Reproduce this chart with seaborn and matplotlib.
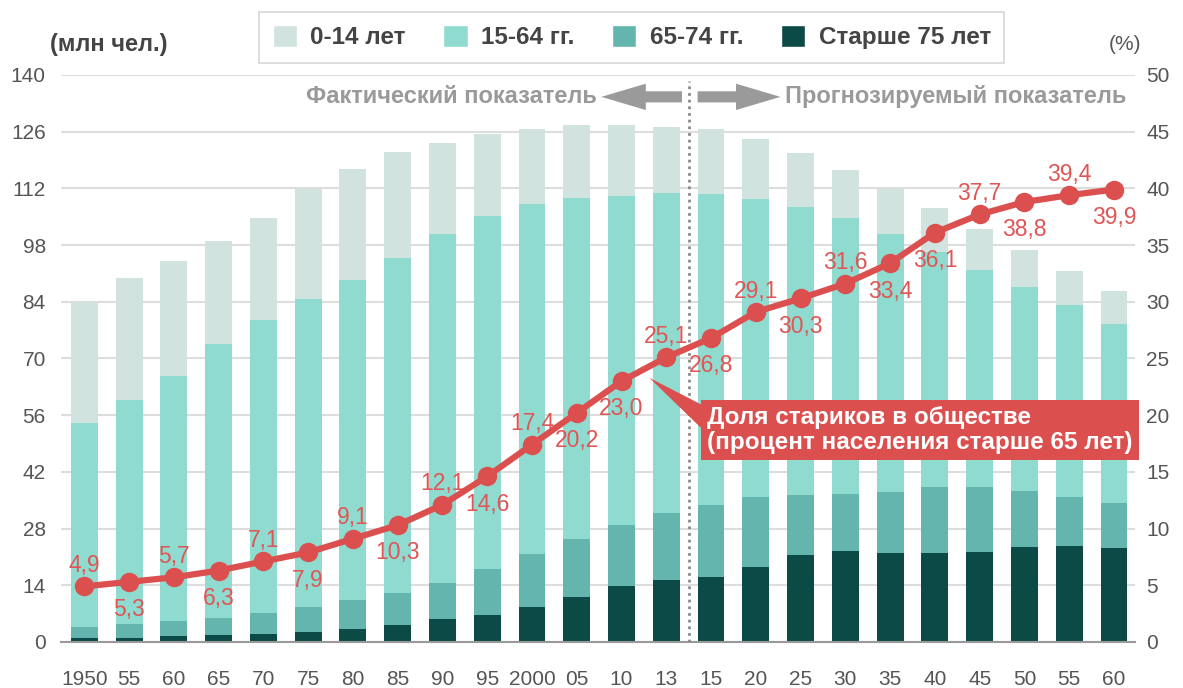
import numpy as np
import pandas as pd
import matplotlib
matplotlib.use('Agg')
import matplotlib.pyplot as plt
import seaborn as sns
from matplotlib.patches import Patch, Polygon

# Население Японии по возрастным группам (млн чел.) и доля пожилых (%)

years = [1950, 1955, 1960, 1965, 1970, 1975, 1980, 1985, 1990, 1995, 2000, 2005,
         2010, 2013, 2015, 2020, 2025, 2030, 2035, 2040, 2045, 2050, 2055, 2060]
year_labels = ['1950', '55', '60', '65', '70', '75', '80', '85', '90', '95', '2000', '05',
               '10', '13', '15', '20', '25', '30', '35', '40', '45', '50', '55', '60']

pop_0_14 = [29.9, 30.1, 28.4, 25.6, 25.1, 27.2, 27.6, 26.1, 22.6, 20.1, 18.6, 18.0,
            17.6, 16.3, 16.0, 14.6, 13.3, 11.9, 11.2, 10.7, 10.1, 9.2, 8.5, 8.2]
pop_15_64 = [50.3, 55.4, 60.6, 67.6, 72.4, 76.0, 78.9, 82.8, 86.2, 87.3, 86.4, 84.2,
             81.1, 79.1, 76.8, 73.6, 71.2, 68.1, 63.6, 58.1, 53.6, 50.2, 47.3, 44.1]
pop_65_74 = [2.9, 3.3, 3.7, 4.2, 5.1, 6.1, 7.2, 7.7, 8.8, 11.3, 13.1, 14.2,
             15.2, 16.5, 17.7, 17.5, 14.8, 14.0, 15.1, 16.4, 16.0, 13.9, 12.2, 11.3]
pop_75 = [0.9, 1.1, 1.4, 1.7, 2.0, 2.5, 3.2, 4.3, 5.7, 6.7, 8.6, 11.2,
          13.7, 15.3, 16.1, 18.4, 21.5, 22.5, 22.0, 21.9, 22.3, 23.5, 23.7, 23.1]

share_65 = [4.9, 5.3, 5.7, 6.3, 7.1, 7.9, 9.1, 10.3, 12.1, 14.6, 17.4, 20.2,
            23.0, 25.1, 26.8, 29.1, 30.3, 31.6, 33.4, 36.1, 37.7, 38.8, 39.4, 39.9]
share_labels = [f'{v:.1f}'.replace('.', ',') for v in share_65]

# подпись над (+1) или под (-1) точкой
label_side = [1, -1, 1, -1, 1, -1, 1, -1, 1, -1, 1, -1,
              -1, 1, -1, 1, -1, 1, -1, -1, 1, -1, 1, -1]

group_names = ['0-14 лет', '15-64 гг.', '65-74 гг.', 'Старше 75 лет']
group_colors = ['#d0e3df', '#90dbd0', '#63b5ae', '#0b4a46']
red = '#db4f4f'
grey_text = '#555555'

df = pd.DataFrame({'year': years, 'p0': pop_0_14, 'p15': pop_15_64,
                   'p65': pop_65_74, 'p75': pop_75})
df['c75'] = df.p75
df['c65'] = df.c75 + df.p65
df['c15'] = df.c65 + df.p15
df['c0'] = df.c15 + df.p0

sns.set_style('white')
plt.rcParams['font.family'] = ['Liberation Sans', 'DejaVu Sans']

fig = plt.figure(figsize=(11.83, 6.88), dpi=100)
ax = fig.add_axes([0.0516, 0.0669, 0.9078, 0.8241])

# stacked bars: tallest first
for col, color in zip(['c0', 'c15', 'c65', 'c75'], group_colors):
    sns.barplot(data=df, x='year', y=col, color=color, saturation=1, width=0.6,
                errorbar=None, linewidth=0, ax=ax)

n = len(years)
ax.set_ylim(0, 140)
ax.set_yticks(np.arange(0, 141, 14))
ax.grid(axis='y', color='#dddddd', lw=1.5)
ax.set_axisbelow(True)
ax.set_xticks(range(n))
ax.set_xticklabels(year_labels)
ax.set_xlabel('')
ax.set_ylabel('')
for s in ax.spines.values():
    s.set_visible(False)
ax.spines['bottom'].set_visible(True)
ax.spines['bottom'].set_color('#999999')
ax.spines['bottom'].set_linewidth(1.5)
ax.tick_params(axis='x', length=0, pad=20, labelsize=15, labelcolor=grey_text)
ax.tick_params(axis='y', length=0, pad=11, labelsize=15, labelcolor=grey_text)

# forecast divider
ax.axvline(13.5, ymax=0.99, color='#8a8a8a', lw=2, ls=(0, (1, 1.4)), zorder=3)

# line on the right axis
ax2 = ax.twinx()
sns.lineplot(x=np.arange(n), y=share_65, ax=ax2, color=red, lw=4.5, marker='o',
             markersize=14, markeredgewidth=0, zorder=5)
ax2.set_ylim(0, 50)
ax2.set_yticks(range(0, 51, 5))
ax2.set_ylabel('')
for s in ax2.spines.values():
    s.set_visible(False)
ax2.tick_params(axis='y', length=0, pad=8, labelsize=15, labelcolor=grey_text)

for i, (v, t, side) in enumerate(zip(share_65, share_labels, label_side)):
    ax2.annotate(t, (i, v), xytext=(0, 15 if side > 0 else -20), textcoords='offset points',
                 ha='center', va='center', fontsize=16.5, color='#e05555')

ax.set_xlim(-0.52, 23.47)

# arrows and headers
arrow = dict(arrowstyle='simple,head_length=1.6,head_width=0.95,tail_width=0.4',
             fc='#9a9a9a', ec='none', mutation_scale=20, shrinkA=0, shrinkB=0)
ax.annotate('', xy=(11.55, 134.6), xytext=(13.35, 134.6), arrowprops=arrow)
ax.annotate('', xy=(15.55, 134.6), xytext=(13.7, 134.6), arrowprops=arrow)
ax.text(11.45, 134.6, 'Фактический показатель', ha='right', va='center',
        fontsize=17, color='#9a9a9a', fontweight='bold')
ax.text(15.65, 134.6, 'Прогнозируемый показатель', ha='left', va='center',
        fontsize=17, color='#9a9a9a', fontweight='bold')

# callout
ax2.add_patch(Polygon([(12.62, 23.3), (13.85, 20.8), (13.85, 18.6)], closed=True,
                      fc=red, ec='none', zorder=6))
ax2.text(13.92, 18.7, 'Доля стариков в обществе\n(процент населения старше 65 лет)',
         ha='left', va='center', fontsize=17.5, color='white', fontweight='bold',
         linespacing=1.1, zorder=7,
         bbox=dict(boxstyle='square,pad=0.25', fc=red, ec='none'))

fig.text(0.092, 0.935, '(млн чел.)', ha='center', va='center', fontsize=17,
         color='#444444', fontweight='bold')
fig.text(0.951, 0.935, '(%)', ha='center', va='center', fontsize=15, color=grey_text)

handles = [Patch(facecolor=c, label=l) for c, l in zip(group_colors, group_names)]
leg = fig.legend(handles=handles, loc='center', bbox_to_anchor=(0.534, 0.946), ncol=4,
                 frameon=True, fancybox=False, edgecolor='#cccccc', fontsize=17.5,
                 handlelength=1.0, handleheight=1.0, handletextpad=0.55,
                 columnspacing=1.55, borderpad=0.55, labelcolor='#444444')
leg.get_frame().set_linewidth(1.2)
for t in leg.get_texts():
    t.set_fontweight('bold')

fig.savefig('out.png', dpi=100)
